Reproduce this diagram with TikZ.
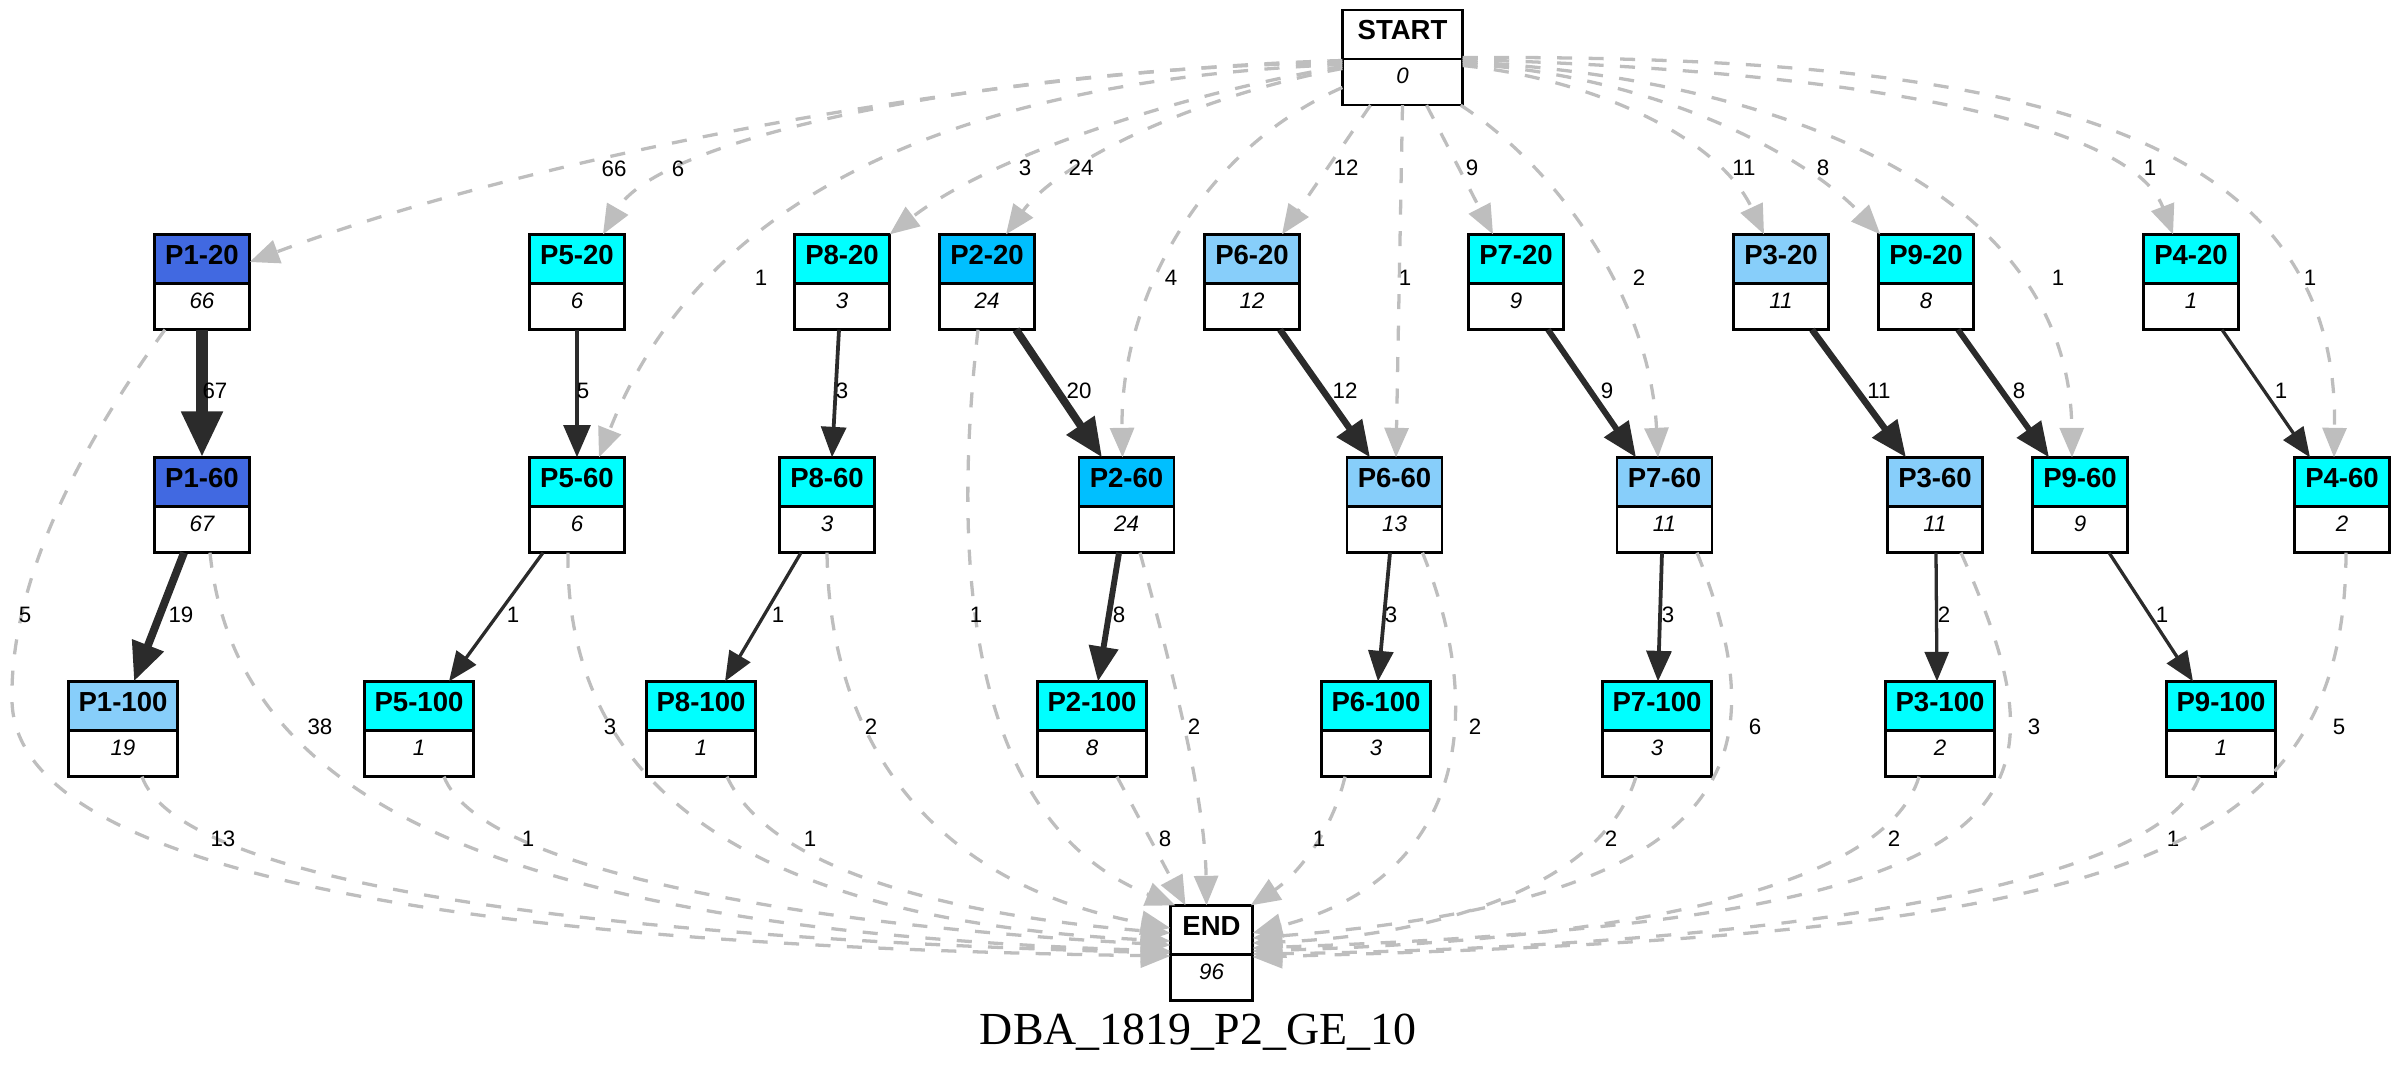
\documentclass[tikz,border=0pt]{standalone}
\usepackage{fontspec}
\setmainfont{Liberation Serif}
\newfontfamily\gvsans{Liberation Sans}
\usetikzlibrary{arrows.meta,calc}

\definecolor{royal}{HTML}{4169E1}
\definecolor{aqua}{HTML}{00FFFF}
\definecolor{deepsky}{HTML}{00BFFF}
\definecolor{lightsky}{HTML}{87CEFA}
\definecolor{edgegray}{HTML}{BEBEBE}
\definecolor{edgedark}{HTML}{2B2B2B}

\tikzset{
  recframe/.style={rectangle, inner sep=0pt, minimum height=28.66pt},
  recline/.style={line width=0.75pt, draw=black},
  rectitle/.style={anchor=base, inner sep=0pt, font=\gvsans\bfseries\fontsize{8.4}{10}\selectfont},
  recvalue/.style={anchor=base, inner sep=0pt, font=\gvsans\itshape\fontsize{6.8}{8}\selectfont},
  elabel/.style={inner sep=0pt, font=\gvsans\fontsize{6.8}{8}\selectfont},
  gedge/.style={draw=edgegray, line width=1pt, dash pattern=on 4.6pt off 5pt,
    -{Triangle[length=7pt 2, width=5.5pt 1.8]}},
  bedge/.style={draw=edgedark, -{Triangle[length=7pt 2, width=5.5pt 1.8]}},
  ew1/.style={bedge, line width=1pt},
  ew3/.style={bedge, line width=1.15pt},
  ew5/.style={bedge, line width=1.4pt},
  ew8/.style={bedge, line width=1.8pt},
  ew11/.style={bedge, line width=2pt},
  ew19/.style={bedge, line width=2.4pt},
  ew67/.style={bedge, line width=3.5pt},
}

% record node: name, x, y, width, fill, title, value
\newcommand{\gvrec}[7]{%
  \node[recframe, minimum width=#4] (#1) at (#2,#3) {};
  \fill[#5] (#1.north west) rectangle ($(#1.north east)+(0,49)$);
  \draw[recline] ($(#1.north west)+(0,49)$) -- ($(#1.north east)+(0,49)$);
  \draw[recline] (#1.north west) rectangle (#1.south east);
  \node[rectitle] at ($(#1.north)+(0,30)$) {#6};
  \node[recvalue] at ($(#1.north)+(0,74)$) {#7};
}

\begin{document}
\begin{tikzpicture}[x=0.3049pt, y=-0.3049pt]
\useasboundingbox (0,0) rectangle (2400,1078);

% nodes
\gvrec{start}{1402.5}{57.5}{36.28pt}{white}{START}{0}
\gvrec{end}{1211.5}{953}{24.7pt}{white}{END}{96}

\gvrec{p120}{202}{282}{28.66pt}{royal}{P1-20}{66}
\gvrec{p520}{577}{282}{28.66pt}{aqua}{P5-20}{6}
\gvrec{p820}{842}{282}{28.66pt}{aqua}{P8-20}{3}
\gvrec{p220}{987}{282}{28.66pt}{deepsky}{P2-20}{24}
\gvrec{p620}{1252}{282}{28.66pt}{lightsky}{P6-20}{12}
\gvrec{p720}{1516}{282}{28.66pt}{aqua}{P7-20}{9}
\gvrec{p320}{1781}{282}{28.66pt}{lightsky}{P3-20}{11}
\gvrec{p920}{1926}{282}{28.66pt}{aqua}{P9-20}{8}
\gvrec{p420}{2191}{282}{28.66pt}{aqua}{P4-20}{1}

\gvrec{p160}{202}{505}{28.66pt}{royal}{P1-60}{67}
\gvrec{p560}{577}{505}{28.66pt}{aqua}{P5-60}{6}
\gvrec{p860}{827}{505}{28.66pt}{aqua}{P8-60}{3}
\gvrec{p260}{1126.5}{505}{28.66pt}{deepsky}{P2-60}{24}
\gvrec{p660}{1394.5}{505}{28.66pt}{lightsky}{P6-60}{13}
\gvrec{p760}{1664.5}{505}{28.66pt}{lightsky}{P7-60}{11}
\gvrec{p360}{1935}{505}{28.66pt}{lightsky}{P3-60}{11}
\gvrec{p960}{2080}{505}{28.66pt}{aqua}{P9-60}{9}
\gvrec{p460}{2342}{505}{28.66pt}{aqua}{P4-60}{2}

\gvrec{p1100}{123}{729}{32.93pt}{lightsky}{P1-100}{19}
\gvrec{p5100}{419}{729}{32.93pt}{aqua}{P5-100}{1}
\gvrec{p8100}{701}{729}{32.93pt}{aqua}{P8-100}{1}
\gvrec{p2100}{1092}{729}{32.93pt}{aqua}{P2-100}{8}
\gvrec{p6100}{1376}{729}{32.93pt}{aqua}{P6-100}{3}
\gvrec{p7100}{1657}{729}{32.93pt}{aqua}{P7-100}{3}
\gvrec{p3100}{1940}{729}{32.93pt}{aqua}{P3-100}{2}
\gvrec{p9100}{2221}{729}{32.93pt}{aqua}{P9-100}{1}

% edges leaving START
\draw[gedge] ($(start.west)+(0,3)$) .. controls (1000,70) and (550,150) .. ($(p120.east)+(0,-20)$) node[elabel] at (614,169) {66};
\draw[gedge] ($(start.west)+(0,5)$) .. controls (1000,68) and (660,135) .. ($(p520.north)+(26,0)$) node[elabel] at (678,169) {6};
\draw[gedge] ($(start.west)+(0,7)$) .. controls (950,80) and (700,200) .. ($(p560.north)+(22,0)$) node[elabel] at (761,278) {1};
\draw[gedge] ($(start.west)+(0,9)$) .. controls (1200,90) and (1000,150) .. (p820.north east) node[elabel] at (1025,168) {3};
\draw[gedge] ($(start.west)+(0,11)$) .. controls (1200,95) and (1060,160) .. ($(p220.north)+(19,0)$) node[elabel] at (1081,168) {24};
\draw[gedge] ($(start.west)+(0,30)$) .. controls (1200,150) and (1120,300) .. ($(p260.north)+(-4,0)$) node[elabel] at (1171,278) {4};
\draw[gedge] ($(start.south)+(-32,0)$) -- ($(p620.north)+(30,0)$) node[elabel] at (1346,168) {12};
\draw[gedge] (start.south) -- ($(p660.north)+(1.5,0)$) node[elabel] at (1405,278) {1};
\draw[gedge] ($(start.south)+(24,0)$) -- ($(p720.north)+(-23,0)$) node[elabel] at (1472,168) {9};
\draw[gedge] ($(start.south east)+(-2,0)$) .. controls (1560,170) and (1650,300) .. ($(p760.north)+(-6.5,0)$) node[elabel] at (1639,278) {2};
\draw[gedge] ($(start.east)+(0,8)$) .. controls (1600,80) and (1720,140) .. ($(p320.north)+(-17,0)$) node[elabel] at (1744,168) {11};
\draw[gedge] ($(start.east)+(0,6)$) .. controls (1650,75) and (1800,150) .. ($(p920.north west)+(2,0)$) node[elabel] at (1823,168) {8};
\draw[gedge] ($(start.east)+(0,4)$) .. controls (1800,80) and (2070,200) .. ($(p960.north)+(-8,0)$) node[elabel] at (2058,278) {1};
\draw[gedge] ($(start.east)+(0,2)$) .. controls (1850,70) and (2130,120) .. ($(p420.north)+(-18,0)$) node[elabel] at (2150,168) {1};
\draw[gedge] (start.east) .. controls (2000,55) and (2340,120) .. ($(p460.north)+(-8,0)$) node[elabel] at (2310,278) {1};

% solid flow edges
\draw[ew67] (p120.south) -- (p160.north) node[elabel] at (215,391) {67};
\draw[ew5] (p520.south) -- (p560.north) node[elabel] at (583,391) {5};
\draw[ew3] ($(p820.south)+(-3,0)$) -- ($(p860.north)+(5,0)$) node[elabel] at (842,391) {3};
\draw[ew19] ($(p220.south)+(29,0)$) -- ($(p260.north)+(-24.5,0)$) node[elabel] at (1079,391) {20};
\draw[ew11] ($(p620.south)+(28,0)$) -- ($(p660.north)+(-24.5,0)$) node[elabel] at (1345,391) {12};
\draw[ew8] ($(p720.south)+(32,0)$) -- ($(p760.north)+(-28.5,0)$) node[elabel] at (1607,391) {9};
\draw[ew11] ($(p320.south)+(31,0)$) -- ($(p360.north)+(-29,0)$) node[elabel] at (1879,391) {11};
\draw[ew8] ($(p920.south)+(32,0)$) -- ($(p960.north)+(-31,0)$) node[elabel] at (2019,391) {8};
\draw[ew1] ($(p420.south)+(31,0)$) -- ($(p460.north)+(-32,0)$) node[elabel] at (2281,391) {1};
\draw[ew19] ($(p160.south)+(-18,0)$) -- ($(p1100.north)+(11,0)$) node[elabel] at (181,615) {19};
\draw[ew1] ($(p560.south)+(-34,0)$) -- ($(p5100.north)+(30,0)$) node[elabel] at (513,615) {1};
\draw[ew1] ($(p860.south)+(-26,0)$) -- ($(p8100.north)+(24,0)$) node[elabel] at (778,615) {1};
\draw[ew8] ($(p260.south)+(-7.5,0)$) -- ($(p2100.north)+(6,0)$) node[elabel] at (1119,615) {8};
\draw[ew3] ($(p660.south)+(-4.5,0)$) -- ($(p6100.north)+(2,0)$) node[elabel] at (1391,615) {3};
\draw[ew3] ($(p760.south)+(-2.5,0)$) -- ($(p7100.north)+(1,0)$) node[elabel] at (1668,615) {3};
\draw[ew1] ($(p360.south)+(1,0)$) -- ($(p3100.north)+(-3,0)$) node[elabel] at (1944,615) {2};
\draw[ew1] ($(p960.south)+(29,0)$) -- ($(p9100.north)+(-28,0)$) node[elabel] at (2162,615) {1};

% edges into END
\draw[gedge] ($(p120.south)+(-37,0)$) .. controls (70,460) and (10,590) .. (12,700) .. controls (14,860) and (400,945) .. ($(end.west)+(0,3)$) node[elabel] at (25,615) {5};
\draw[gedge] ($(p160.south)+(8,0)$) .. controls (235,800) and (500,930) .. ($(end.west)+(0,-2)$) node[elabel] at (320,727) {38};
\draw[gedge] ($(p1100.south)+(19,0)$) .. controls (175,870) and (500,935) .. (end.west) node[elabel] at (223,839) {13};
\draw[gedge] ($(p560.south)+(-9,0)$) .. controls (565,780) and (740,920) .. ($(end.west)+(0,-12)$) node[elabel] at (610,727) {3};
\draw[gedge] ($(p5100.south)+(25,0)$) .. controls (480,870) and (800,925) .. ($(end.west)+(0,-8)$) node[elabel] at (528,839) {1};
\draw[gedge] (p860.south) .. controls (830,770) and (960,890) .. ($(end.west)+(0,-25)$) node[elabel] at (871,727) {2};
\draw[gedge] ($(p8100.south)+(26,0)$) .. controls (770,870) and (950,915) .. ($(end.west)+(0,-20)$) node[elabel] at (810,839) {1};
\draw[gedge] ($(p220.south)+(-9,0)$) .. controls (945,620) and (990,830) .. ($(end.north west)+(5,0)$) node[elabel] at (976,615) {1};
\draw[gedge] ($(p260.south)+(13.5,0)$) .. controls (1175,680) and (1205,800) .. ($(end.north)+(-5,0)$) node[elabel] at (1194,727) {2};
\draw[gedge] ($(p2100.south)+(25,0)$) -- ($(end.north)+(-26,0)$) node[elabel] at (1165,839) {8};
\draw[gedge] ($(p660.south)+(28,0)$) .. controls (1490,720) and (1460,880) .. ($(end.east)+(0,-20)$) node[elabel] at (1475,727) {2};
\draw[gedge] ($(p6100.south)+(-31,0)$) .. controls (1330,840) and (1290,880) .. ($(end.north east)+(-2,0)$) node[elabel] at (1319,839) {1};
\draw[gedge] ($(p760.south)+(32.5,0)$) .. controls (1780,760) and (1740,900) .. ($(end.east)+(0,-15)$) node[elabel] at (1755,727) {6};
\draw[gedge] ($(p7100.south)+(-21,0)$) .. controls (1605,880) and (1450,935) .. ($(end.east)+(0,-10)$) node[elabel] at (1611,839) {2};
\draw[gedge] ($(p360.south)+(26,0)$) .. controls (2070,800) and (2060,920) .. ($(end.east)+(0,-5)$) node[elabel] at (2034,727) {3};
\draw[gedge] ($(p3100.south)+(-21,0)$) .. controls (1885,890) and (1620,940) .. ($(end.east)+(0,-2)$) node[elabel] at (1894,839) {2};
\draw[gedge] ($(p9100.south)+(-22,0)$) .. controls (2160,895) and (1720,948) .. ($(end.east)+(0,1)$) node[elabel] at (2173,839) {1};
\draw[gedge] ($(p460.south)+(4,0)$) .. controls (2345,870) and (2100,935) .. ($(end.east)+(0,4)$) node[elabel] at (2339,727) {5};

% graph caption
\node[anchor=base, inner sep=0pt, font=\fontsize{14}{16}\selectfont] (caption) at (1198,1044) {DBA\_1819\_P2\_GE\_10};
\end{tikzpicture}
\end{document}
